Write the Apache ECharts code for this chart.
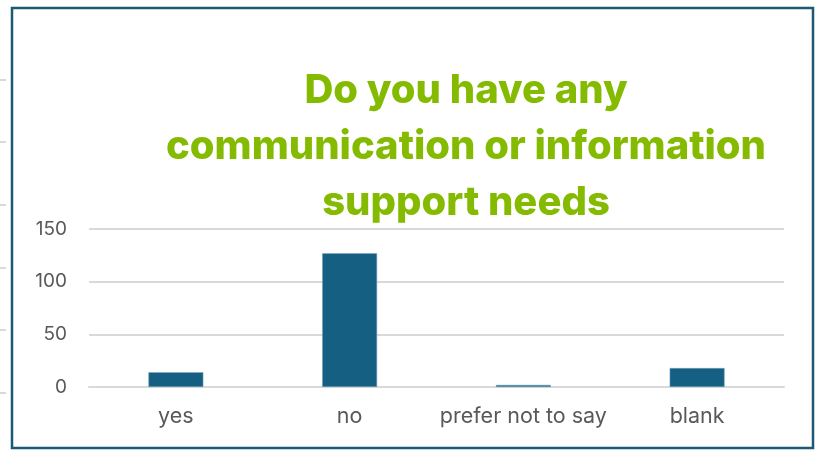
<!DOCTYPE html>
<html>
<head>
<meta charset="utf-8">
<script src="https://cdn.jsdelivr.net/npm/echarts@6/dist/echarts.min.js"></script>
<style>
  html, body { margin: 0; padding: 0; background: #ffffff; }
  #chart { width: 815px; height: 451px; }
</style>
</head>
<body>
<div id="chart"></div>
<script>
// Survey responses: communication / information support needs
const categories = ['yes', 'no', 'prefer not to say', 'blank'];
const responses = [14, 127, 2, 18];
const titleLines = ['Do you have any', 'communication or information', 'support needs'];
const yTicks = { min: 0, max: 150, interval: 50 };

const chart = echarts.init(document.getElementById('chart'), null, { renderer: 'canvas' });

// short grey tick stubs peeking out at the left edge
const stubYs = [80, 142, 205, 268, 330, 393];
const stubs = stubYs.map(y => ({
  type: 'rect',
  shape: { x: 0, y: y - 1, width: 6, height: 2 },
  style: { fill: '#d9d9d9' },
  silent: true
}));

chart.setOption({
  animation: false,
  backgroundColor: '#ffffff',
  title: {
    text: titleLines.join('\n'),
    left: 461,
    top: 58,
    textAlign: 'center',
    textStyle: {
      color: '#84bb00',
      fontFamily: 'Inter',
      fontWeight: 800,
      fontSize: 40,
      lineHeight: 56
    }
  },
  grid: { left: 89, right: 31, top: 229, bottom: 64 },
  xAxis: {
    type: 'category',
    data: categories,
    axisLine: { lineStyle: { color: '#d9d9d9', width: 2 } },
    axisTick: { show: false },
    axisLabel: {
      interval: 0,
      color: '#595959',
      fontFamily: 'Inter',
      fontSize: 21.5,
      margin: 19
    }
  },
  yAxis: {
    type: 'value',
    min: yTicks.min,
    max: yTicks.max,
    interval: yTicks.interval,
    axisLine: { show: false },
    axisTick: { show: false },
    splitLine: { lineStyle: { color: '#d9d9d9', width: 2 } },
    axisLabel: {
      color: '#595959',
      fontFamily: 'Inter',
      fontSize: 19,
      margin: 22
    }
  },
  series: [{
    type: 'bar',
    data: responses,
    barWidth: '31.6%',
    itemStyle: { color: '#156082', borderColor: '#7fa9c0', borderWidth: 0.5 }
  }],
  graphic: [
    {
      type: 'rect',
      shape: { x: 12, y: 8, width: 801, height: 440 },
      style: { fill: 'none', stroke: '#1b5a73', lineWidth: 2.5 },
      silent: true
    }
  ].concat(stubs)
});
</script>
</body>
</html>
